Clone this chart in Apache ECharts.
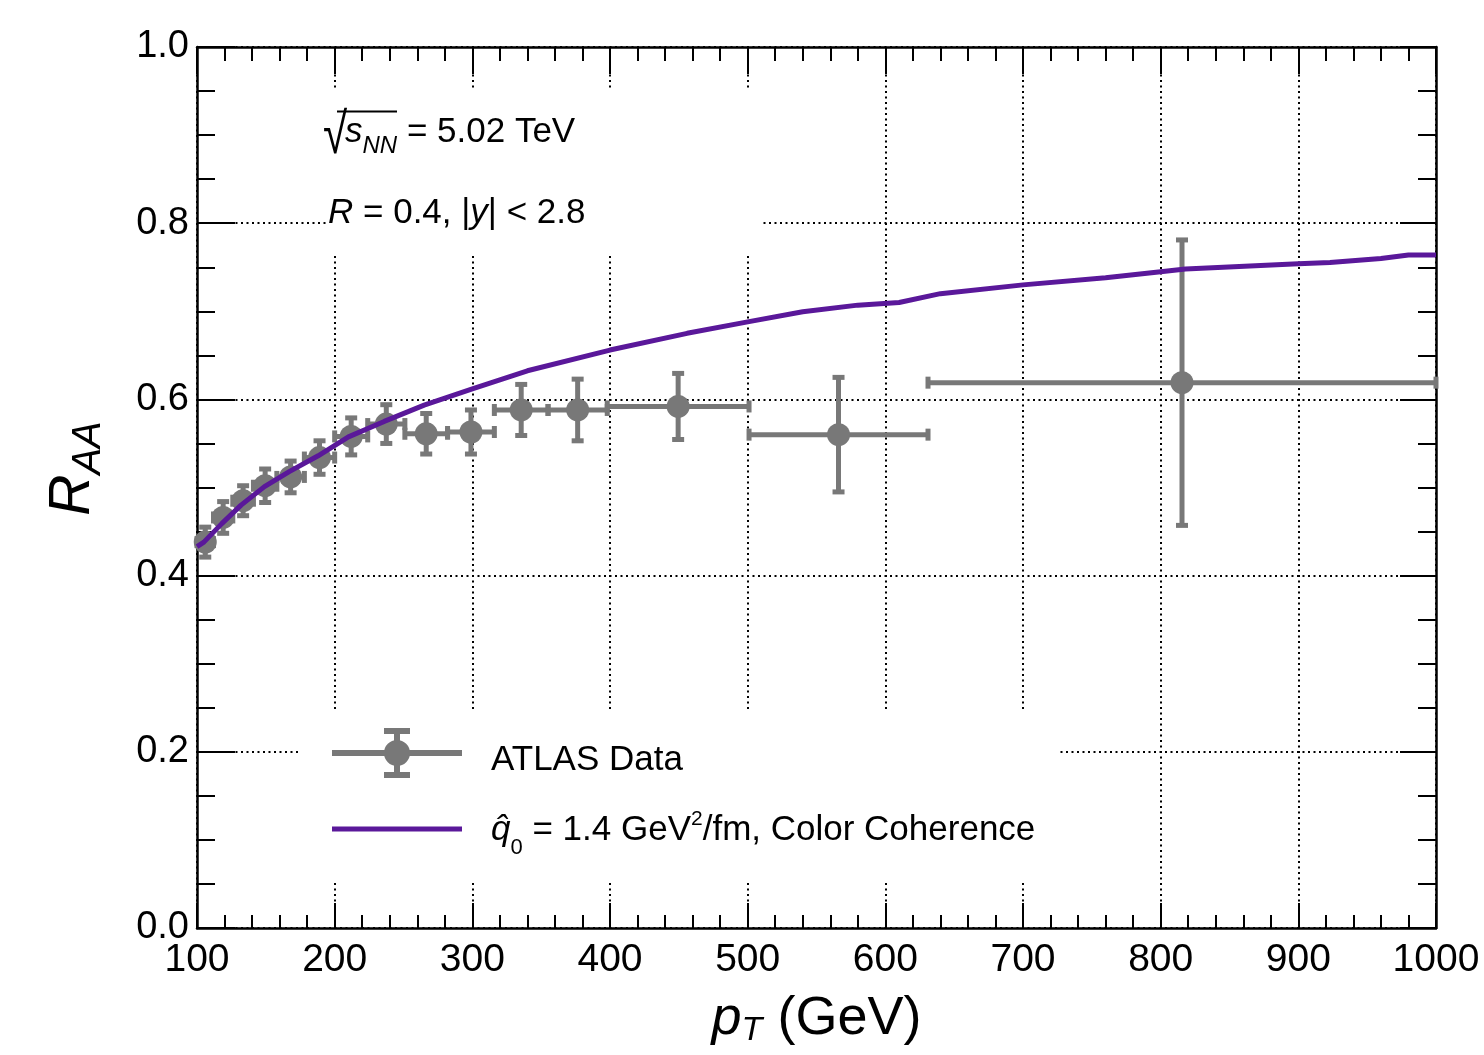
<!DOCTYPE html>
<html>
<head>
<meta charset="utf-8">
<script src="https://cdn.jsdelivr.net/npm/echarts@6/dist/echarts.min.js"></script>
<style>
html,body{margin:0;padding:0;background:#fff;}
#c{width:1484px;height:1055px;}
</style>
</head>
<body>
<div id="c"></div>
<script>
// ---- data ----
const binEdges = [100,112,126,141,158,178,200,224,251,282,316,355,398,501,631,1000];
const ptCenters = [106,119,133.5,149.5,168,189,212,237.5,266.5,299,335.5,376.5,449.5,566,815.5];
const raaValues = [0.438,0.466,0.485,0.502,0.512,0.534,0.558,0.572,0.561,0.563,0.588,0.588,0.592,0.560,0.619];
const raaErrors = [0.017,0.018,0.017,0.019,0.018,0.019,0.021,0.022,0.023,0.025,0.029,0.035,0.0375,0.065,0.162];

const curvePt  = [100,105,118,132,149,167,188,210,236,265,300,340,400,456,500,540,580,610,640,700,760,800,818,900,923,960,980,1000];
const curveRaa = [0.433,0.438,0.459,0.480,0.501,0.518,0.536,0.5575,0.575,0.5935,0.612,0.6325,0.656,0.675,0.688,0.6995,0.707,0.710,0.720,0.730,0.738,0.745,0.748,0.754,0.7555,0.760,0.764,0.764];

const xTicks = [100,200,300,400,500,600,700,800,900,1000];
const yTicks = [0.0,0.2,0.4,0.6,0.8,1.0];

const dataName = 'ATLAS Data';
const curveName = 'qhat0 = 1.4 GeV2/fm, Color Coherence';

// ---- styles ----
const FONT = 'Liberation Sans';
const GRAY = '#787878';
const PURPLE = '#5a189a';

const dataRows = ptCenters.map((x,i)=>[x, raaValues[i], binEdges[i], binEdges[i+1], raaErrors[i]]);
const curveRows = curvePt.map((x,i)=>[x, curveRaa[i]]);

function renderErr(params, api){
  const x = api.value(0), y = api.value(1), xl = api.value(2), xh = api.value(3), e = api.value(4);
  const c = api.coord([x,y]);
  const l = api.coord([xl,y]);
  const r = api.coord([xh,y]);
  const t = api.coord([x,y+e]);
  const b = api.coord([x,y-e]);
  const st = {stroke: GRAY, lineWidth: 5};
  const cap = 6;
  return {
    type:'group',
    children:[
      {type:'line', shape:{x1:l[0],y1:c[1],x2:r[0],y2:c[1]}, style:st},
      {type:'line', shape:{x1:c[0],y1:t[1],x2:c[0],y2:b[1]}, style:st},
      {type:'line', shape:{x1:c[0]-cap,y1:t[1],x2:c[0]+cap,y2:t[1]}, style:st},
      {type:'line', shape:{x1:c[0]-cap,y1:b[1],x2:c[0]+cap,y2:b[1]}, style:st},
      {type:'line', shape:{x1:l[0],y1:c[1]-cap,x2:l[0],y2:c[1]+cap}, style:st},
      {type:'line', shape:{x1:r[0],y1:c[1]-cap,x2:r[0],y2:c[1]+cap}, style:st},
      {type:'circle', shape:{cx:c[0],cy:c[1],r:11.5}, style:{fill:GRAY}}
    ]
  };
}

const gridLine = {show:true, lineStyle:{color:'#000', width:2, type:[2,3.5]}};
const axisLine = {show:true, onZero:false, lineStyle:{color:'#000', width:2.5}};

// legend icons (130 x 50 box)
const dataIcon = 'path://M0,22h130v6h-130z M62,3h6v44h-6z M52,0h26v6h-26z M52,44h26v6h-26z M52,25A13,13,0,1,1,78,25A13,13,0,1,1,52,25z';
const lineIcon = 'path://M0,0h130v5h-130z';

const chart = echarts.init(document.getElementById('c'), null, {renderer:'canvas', width:1484, height:1055});
chart.setOption({
  animation:false,
  backgroundColor:'#fff',
  textStyle:{fontFamily:FONT},
  grid:{left:197, right:48, top:47, bottom:127, containLabel:false},
  xAxis:[{
    type:'value', min:xTicks[0], max:xTicks[xTicks.length-1], interval:100,
    position:'bottom',
    axisLine:axisLine,
    axisTick:{show:true, inside:true, length:25, lineStyle:{color:'#000', width:2}},
    minorTick:{show:true, splitNumber:5, length:13, lineStyle:{color:'#000', width:2}},
    splitLine:gridLine,
    axisLabel:{show:true, margin:13, color:'#000', fontFamily:FONT, fontSize:39, showMinLabel:true, showMaxLabel:true, formatter:v=>String(v)},
    name:'{it|p}{sub|T}{n| (GeV)}',
    nameLocation:'middle', nameGap:64,
    nameTextStyle:{color:'#000', fontFamily:FONT, rich:{
      it:{fontSize:54, fontStyle:'italic', fontFamily:FONT, verticalAlign:'top', color:'#000'},
      sub:{fontSize:34, fontStyle:'italic', fontFamily:FONT, verticalAlign:'top', padding:[22,0,0,0], color:'#000'},
      n:{fontSize:54, fontFamily:FONT, verticalAlign:'top', color:'#000'}
    }}
  },{
    type:'value', min:xTicks[0], max:xTicks[xTicks.length-1], interval:100,
    position:'top',
    axisLine:axisLine,
    axisTick:{show:true, inside:true, length:27, lineStyle:{color:'#000', width:2}},
    minorTick:{show:true, splitNumber:5, length:14, lineStyle:{color:'#000', width:2}},
    splitLine:{show:false},
    axisLabel:{show:false}
  }],
  yAxis:[{
    type:'value', min:yTicks[0], max:yTicks[yTicks.length-1], interval:0.2,
    position:'left',
    axisLine:axisLine,
    axisTick:{show:true, inside:true, length:38, lineStyle:{color:'#000', width:2}},
    minorTick:{show:true, splitNumber:4, length:18, lineStyle:{color:'#000', width:2}},
    splitLine:gridLine,
    axisLabel:{show:true, margin:8, color:'#000', fontFamily:FONT, fontSize:38, formatter:v=>v.toFixed(1)},
    name:'{it|R}{sub|AA}',
    nameLocation:'middle', nameRotate:90, nameGap:88,
    nameTextStyle:{color:'#000', fontFamily:FONT, padding:[0,0,0,38], rich:{
      it:{fontSize:57, fontStyle:'italic', fontFamily:FONT, verticalAlign:'top', color:'#000'},
      sub:{fontSize:40, fontStyle:'italic', fontFamily:FONT, verticalAlign:'top', padding:[24,0,0,0], color:'#000'}
    }}
  },{
    type:'value', min:yTicks[0], max:yTicks[yTicks.length-1], interval:0.2,
    position:'right',
    axisLine:axisLine,
    axisTick:{show:true, inside:true, length:36, lineStyle:{color:'#000', width:2}},
    minorTick:{show:true, splitNumber:4, length:18, lineStyle:{color:'#000', width:2}},
    splitLine:{show:false},
    axisLabel:{show:false}
  }],
  legend:{
    show:true, orient:'vertical', left:332, top:728, padding:0,
    itemWidth:130, itemHeight:50, itemGap:31,
    selectedMode:false,
    data:[{name:dataName, icon:dataIcon}, {name:curveName, icon:lineIcon}],
    formatter:function(name){
      if(name===dataName) return '{n|ATLAS Data}';
      return '{q|q\u0302}{s0|0}{n| = 1.4 GeV}{sup|2}{n|/fm, Color Coherence}';
    },
    textStyle:{color:'#000', fontFamily:FONT, fontSize:35, padding:[0,0,0,24], rich:{
      n:{fontSize:35, fontFamily:FONT, color:'#000', verticalAlign:'top', padding:[14,0,0,0]},
      q:{fontSize:35, fontFamily:FONT, fontStyle:'italic', color:'#000', verticalAlign:'top', padding:[14,0,0,0]},
      s0:{fontSize:22, fontFamily:FONT, color:'#000', verticalAlign:'top', padding:[38,0,0,0]},
      sup:{fontSize:21, fontFamily:FONT, color:'#000', verticalAlign:'top', padding:[10,0,0,0]}
    }}
  },
  graphic:[
    {type:'rect', z:1, shape:{x:326, y:88, width:435, height:167}, style:{fill:'#fff'}},
    {type:'rect', z:1, shape:{x:300, y:712, width:759, height:168}, style:{fill:'#fff'}},
    {type:'text', z:10, x:323, y:109, scaleX:1, scaleY:1.3, style:{x:0, y:0, text:'\u221A', font:'44px "Liberation Sans"', fill:'#000', verticalAlign:'top'}},
    {type:'line', z:10, shape:{x1:337, y1:111.5, x2:397, y2:111.5}, style:{stroke:'#000', lineWidth:2}},
    {type:'text', z:10, style:{x:345, y:115, fill:'#000', verticalAlign:'top',
      text:'{it|s}{sub|NN}{n| = 5.02 TeV}',
      rich:{
        it:{fontSize:35, fontStyle:'italic', fontFamily:FONT, verticalAlign:'top', fill:'#000'},
        sub:{fontSize:24, fontStyle:'italic', fontFamily:FONT, verticalAlign:'top', padding:[19,0,0,0], fill:'#000'},
        n:{fontSize:35, fontFamily:FONT, verticalAlign:'top', fill:'#000'}
      }}},
    {type:'text', z:10, style:{x:328, y:196, fill:'#000', verticalAlign:'top',
      text:'{it|R}{n| = 0.4, |}{it|y}{n|| < 2.8}',
      rich:{
        it:{fontSize:35, fontStyle:'italic', fontFamily:FONT, verticalAlign:'top', fill:'#000'},
        n:{fontSize:35, fontFamily:FONT, verticalAlign:'top', fill:'#000'}
      }}}
  ],
  series:[
    {
      name:curveName, type:'line', xAxisIndex:0, yAxisIndex:0,
      data:curveRows, showSymbol:false, symbol:'none', smooth:false,
      lineStyle:{color:PURPLE, width:5}, itemStyle:{color:PURPLE}, z:3
    },
    {
      name:dataName, type:'custom', xAxisIndex:0, yAxisIndex:0,
      data:dataRows, renderItem:renderErr, itemStyle:{color:GRAY}, z:2,
      encode:{x:0, y:1}
    }
  ]
});
</script>
</body>
</html>
